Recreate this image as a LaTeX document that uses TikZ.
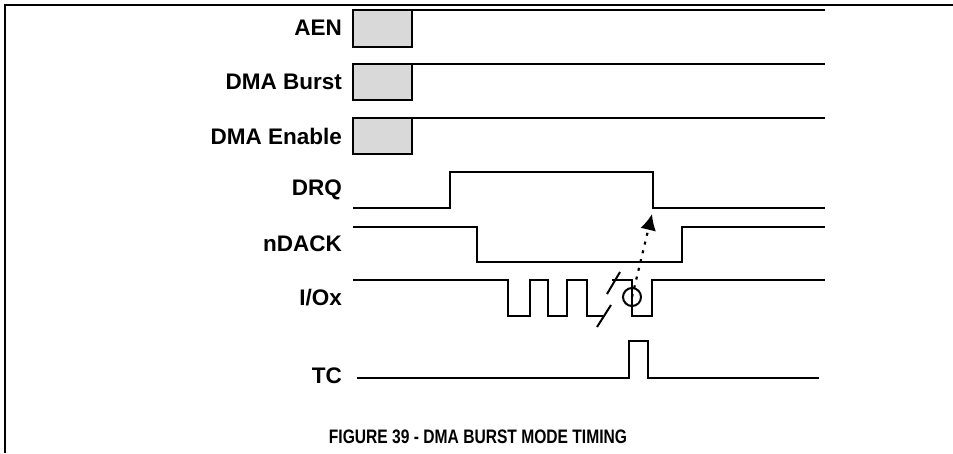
\documentclass[tikz,border=0pt]{standalone}
\usepackage{fontspec}
\setmainfont{Liberation Sans}
\usetikzlibrary{arrows.meta,positioning}

\begin{document}
\begin{tikzpicture}[
  x=1pt, y=-1pt,
  sig/.style={font=\bfseries\fontsize{22.5}{24}\selectfont, anchor=east, inner sep=0pt},
  wave/.style={line width=2pt},
  regbox/.style={draw, line width=2pt, fill=gray!30},
  arrow/.style={-{Latex[length=16pt,width=16pt]}, line width=2.2pt, dash pattern=on 3pt off 6pt}
]
\useasboundingbox (0,0) rectangle (953,453);
\draw[line width=2.5pt] (5,453) -- (5,5) -- (953,5);

% signal names
\node[sig] (aen) at (342,28) {AEN};
\node[sig] (burst) at (342,82) {DMA Burst};
\node[sig] (enable) at (342,136) {DMA Enable};
\node[sig] (drq) at (342,190) {DRQ};
\node[sig] (ndack) at (342,244) {nDACK};
\node[sig] (iox) at (342,298) {I/Ox};
\node[sig] (tc) at (342,376) {TC};

% configuration bits
\draw[regbox] (353,10) rectangle (412,47);
\draw[wave] (412,10) -- (825,10);
\draw[regbox] (353,64) rectangle (412,100);
\draw[wave] (412,64) -- (825,64);
\draw[regbox] (353,118) rectangle (412,154);
\draw[wave] (412,118) -- (825,118);

% handshake
\draw[wave] (353,208) -- (450,208) -- (450,172) -- (653,172) -- (653,208) -- (825,208);
\draw[wave] (353,227) -- (477,227) -- (477,262) -- (682,262) -- (682,227) -- (825,227);

% transfers
\draw[wave] (353,280) -- (508,280) -- (508,316) -- (530,316) -- (530,280) -- (548,280)
  -- (548,316) -- (567,316) -- (567,280) -- (587,280) -- (587,316) -- (603,316);
\draw[wave] (597,327) -- (611,305);
\draw[wave] (607,294) -- (620,272);
\draw[wave] (612,280) -- (632,280) -- (632,316) -- (652,316) -- (652,280) -- (825,280);
\draw[wave] (632,297) circle (9);
\coordinate (last) at (632,297);

% terminal count
\draw[wave] (357,378) -- (629,378) -- (629,341) -- (648,341) -- (648,378) -- (819,378);

\coordinate (drqfall) at (652,214);
\draw[arrow] (last) -- (drqfall);

\node[font=\bfseries\fontsize{19.5}{21}\selectfont, inner sep=0pt] (caption) at (478,437)
  {\scalebox{0.8}[1]{FIGURE 39 - DMA BURST MODE TIMING}};
\end{tikzpicture}
\end{document}
